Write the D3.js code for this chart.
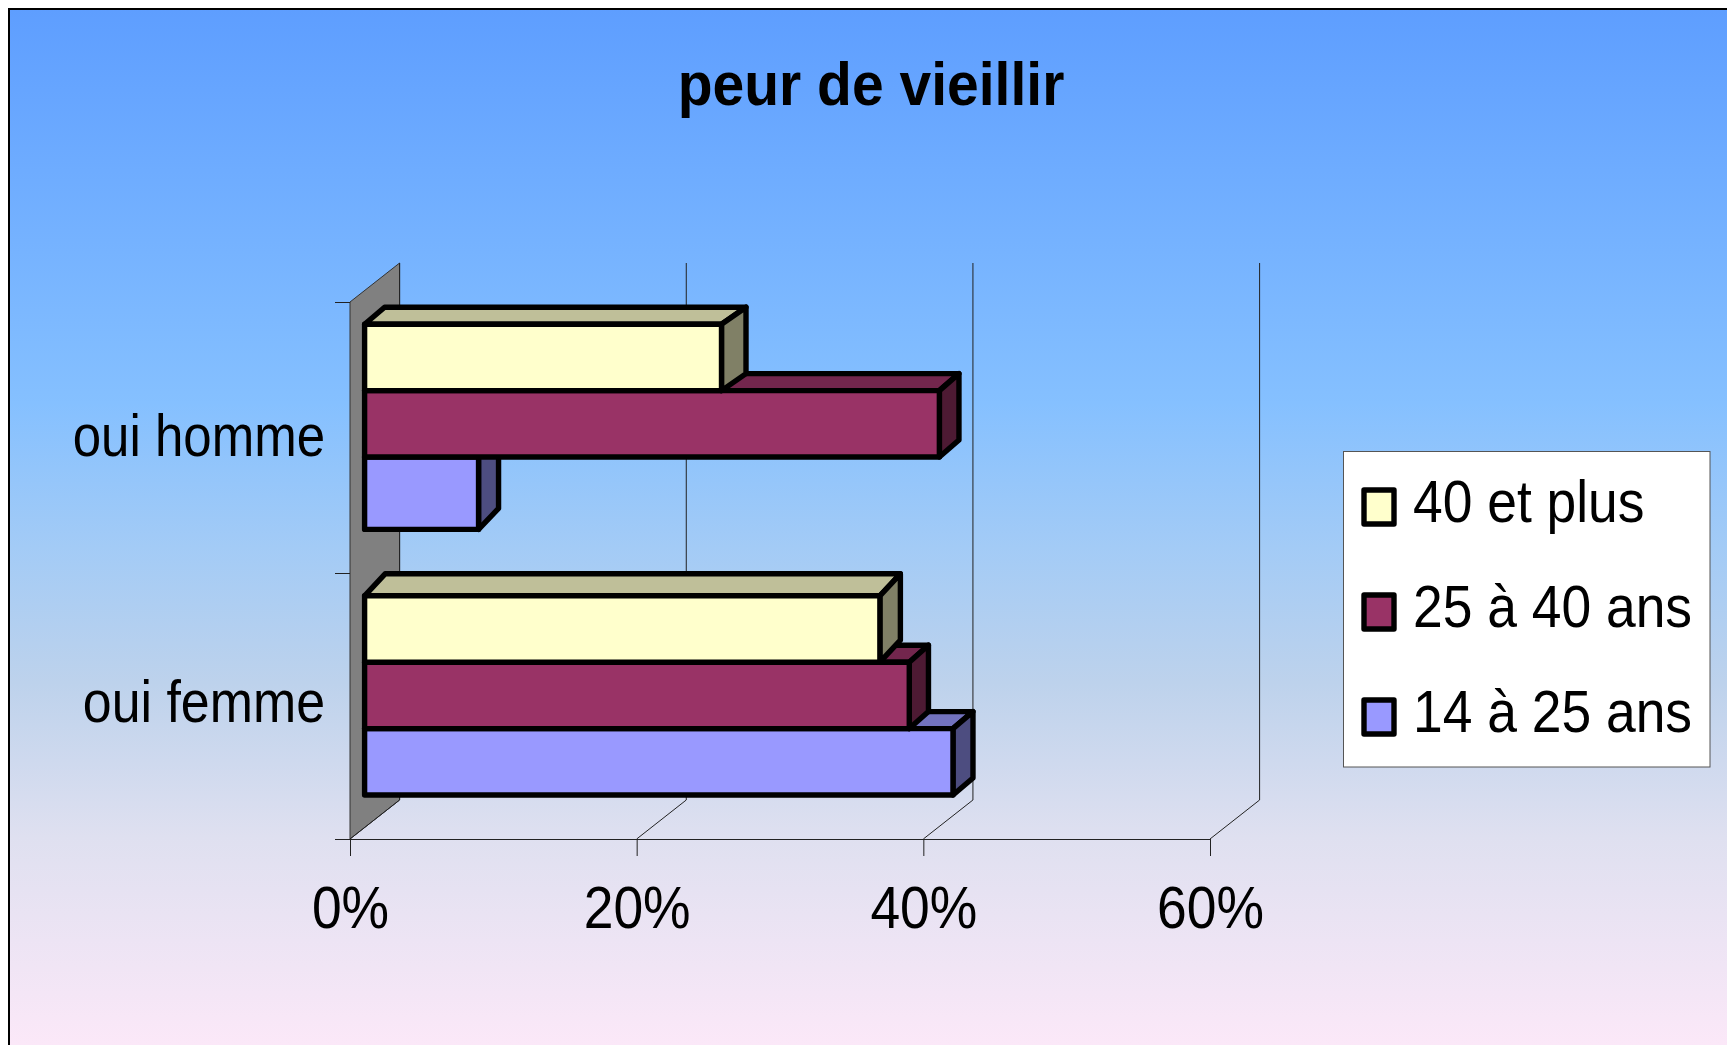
<!DOCTYPE html>
<html>
<head>
<meta charset="utf-8">
<script src="https://cdn.jsdelivr.net/npm/d3@7"></script>
<style>
html, body { margin:0; padding:0; background:#fff; }
svg { display:block; }
text { font-family:"Liberation Sans", Arial, sans-serif; fill:#000; }
</style>
</head>
<body>
<svg width="1727" height="1045"></svg>
<script>
// data
var categories = ["oui femme", "oui homme"];
var seriesNames = ["14 à 25 ans", "25 à 40 ans", "40 et plus"];
var seriesFemme = [41.05, 38.0, 35.95];
var seriesHomme = [7.95, 40.1, 24.9];
var xTicks = [0, 20, 40, 60];

var colors = ["#9999ff", "#993366", "#ffffcc"];

var svg = d3.select("svg");
var frame = {left:9, top:9, right:1727, bottom:1045};
var floor = {front:839, back:800, wallTop:263, wallFrontTop:302};
var depth = {x:49.6, y:40};

// background
var bg = svg.append("defs").append("linearGradient")
    .attr("id", "bg").attr("x1", 0).attr("y1", 0).attr("x2", 0).attr("y2", 1);
[["0%", "#5e9eff"], ["38%", "#85c0ff"], ["52%", "#a3cbf6"], ["65%", "#bdd2ec"], ["80%", "#dfe0f0"], ["100%", "#fbe8f8"]]
    .forEach(function(s) {
        bg.append("stop").attr("offset", s[0]).attr("stop-color", s[1]);
    });

svg.append("rect")
    .attr("x", frame.left).attr("y", frame.top)
    .attr("width", frame.right - frame.left).attr("height", frame.bottom - frame.top)
    .attr("fill", "url(#bg)");
svg.append("path")
    .attr("d", "M" + frame.left + "," + frame.bottom + "V" + frame.top + "H" + frame.right)
    .attr("fill", "none").attr("stroke", "#000").attr("stroke-width", 2);

// scales
var xscale = d3.scaleLinear().domain([0, 60]).range([350, 1210]);
// bars sit one depth step off the front plane
var barX = function(v) { return xscale(v) + 14.6; };
// bar slots counted from the bottom, the gap between the groups is one slot
var yscale = d3.scaleLinear().domain([0, 4, 5, 7]).range([795, 529.4, 457, 324.2]);
var catScale = d3.scaleLinear().domain([0, 1, 2]).range([839, 573, 302]);

// wall
svg.append("path")
    .attr("d", d3.line()([
        [xscale(0), floor.wallFrontTop], [xscale(0) + depth.x, floor.wallTop],
        [xscale(0) + depth.x, floor.back], [xscale(0), floor.front]
    ]) + "Z")
    .attr("fill", "#808080").attr("stroke", "#333").attr("stroke-width", 1);

// grid on back wall and floor
var grid = svg.append("g");
xTicks.forEach(function(t) {
    grid.append("path")
        .attr("d", d3.line()([
            [xscale(t) + depth.x, floor.wallTop],
            [xscale(t) + depth.x, floor.back],
            [xscale(t), floor.front]
        ]))
        .attr("fill", "none").attr("stroke", "#222").attr("stroke-width", 1);
});

// axes
var xAxis = d3.axisBottom(xscale)
    .tickValues(xTicks)
    .tickFormat(function(d) { return d + "%"; })
    .tickSize(17)
    .tickSizeOuter(0)
    .tickPadding(29);
var xg = svg.append("g")
    .attr("transform", "translate(0," + floor.front + ")")
    .call(xAxis);
xg.selectAll("line, path").attr("stroke", "#222");
xg.selectAll("text")
    .attr("font-size", 60)
    .attr("transform", "scale(0.89,1)");

var yAxis = d3.axisLeft(catScale)
    .tickValues([0, 1, 2])
    .tickFormat("")
    .tickSize(15)
    .tickSizeOuter(0);
var yg = svg.append("g")
    .attr("transform", "translate(" + xscale(0) + ",0)")
    .call(yAxis);
yg.selectAll("line").attr("stroke", "#222");
yg.select(".domain").remove();

var catLabelY = [722, 456];
var catLabelSx = [0.865, 0.85];
categories.forEach(function(c, i) {
    svg.append("text")
        .attr("transform", "translate(325," + catLabelY[i] + ") scale(" + catLabelSx[i] + ",1)")
        .attr("text-anchor", "end")
        .attr("font-size", 60)
        .text(c);
});

// bars, back one first so the front faces cover the tops behind them
var shade = function(col, k) {
    var c = d3.rgb(col);
    return d3.rgb(c.r * k, c.g * k, c.b * k).formatHex();
};

var drawBar = function(g, value, slot, col, skew) {
    var x0 = barX(0), x1 = barX(value);
    var yt = yscale(slot + 1), yb = yscale(slot);
    var dx = skew.dx, dy = skew.dy, dx0 = skew.dx0 === undefined ? dx : skew.dx0;
    var line = d3.line();
    g.append("path")
        .attr("d", line([[x0, yt], [x0 + dx0, yt - dy], [x1 + dx, yt - dy], [x1, yt]]) + "Z")
        .attr("fill", shade(col, 0.75));
    g.append("path")
        .attr("d", line([[x1, yt], [x1 + dx, yt - dy], [x1 + dx, yb - dy], [x1, yb]]) + "Z")
        .attr("fill", shade(col, 0.5));
    g.append("rect")
        .attr("x", x0).attr("y", yt)
        .attr("width", x1 - x0).attr("height", yb - yt)
        .attr("fill", col);
    g.selectAll("path, rect")
        .attr("stroke", "#000").attr("stroke-width", 5.4).attr("stroke-linejoin", "round");
};

var bars = svg.append("g");
var skewFemme = [{dx:20, dy:17}, {dx:19.2, dy:17}, {dx:20.5, dy:22}];
var skewHomme = [{dx:20, dy:21}, {dx:19.6, dy:17}, {dx:24.5, dy:17, dx0:20}];
seriesFemme.forEach(function(v, i) {
    drawBar(bars.append("g"), v, i, colors[i], skewFemme[i]);
});
seriesHomme.forEach(function(v, i) {
    drawBar(bars.append("g"), v, i + 4, colors[i], skewHomme[i]);
});

// title
svg.append("text")
    .attr("transform", "translate(871,105) scale(0.92,1)")
    .attr("text-anchor", "middle")
    .attr("font-size", 62)
    .attr("font-weight", "bold")
    .text("peur de vieillir");

// legend, top entry is the last series
var legend = svg.append("g");
legend.append("rect")
    .attr("x", 1343.5).attr("y", 451.5)
    .attr("width", 366.5).attr("height", 315.5)
    .attr("fill", "#fff").attr("stroke", "#555").attr("stroke-width", 1);

var legendNames = seriesNames.slice().reverse();
var legendColors = colors.slice().reverse();
var legendY = d3.scalePoint().domain(legendNames).range([507, 717]);
legendNames.forEach(function(n, i) {
    var cy = legendY(n);
    legend.append("rect")
        .attr("x", 1364).attr("y", cy - 17)
        .attr("width", 30).attr("height", 34)
        .attr("fill", legendColors[i])
        .attr("stroke", "#000").attr("stroke-width", 5.4).attr("stroke-linejoin", "round");
    legend.append("text")
        .attr("transform", "translate(1413," + (cy + 15) + ") scale(0.89,1)")
        .attr("font-size", 60)
        .text(n);
});
</script>
</body>
</html>
